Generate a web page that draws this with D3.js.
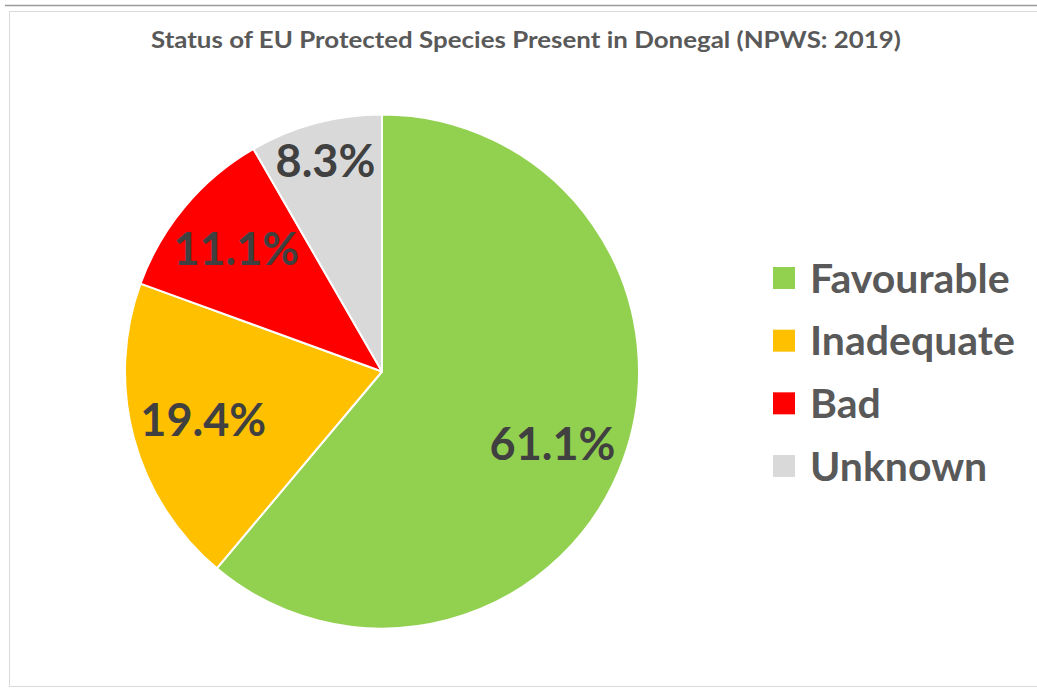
<!DOCTYPE html>
<html>
<head>
<meta charset="utf-8">
<script src="https://cdn.jsdelivr.net/npm/d3@7"></script>
<style>
  body { margin: 0; background: #fff; }
  svg { display: block; font-family: Lato, "Open Sans", sans-serif; }
</style>
</head>
<body>
<div id="chart"></div>
<script>
let width = 1037, height = 688;

// data (species counts, shown as % of total)
let categories = ["Favourable", "Inadequate", "Bad", "Unknown"];
let counts = [22, 7, 4, 3];
let colours = ["#92D050", "#FFC000", "#FF0000", "#D9D9D9"];
let title = "Status of EU Protected Species Present in Donegal (NPWS: 2019)";

let svg = d3.select("#chart").append("svg")
            .attr("width", width).attr("height", height);

// frame
svg.append("line").attr("x1", 5).attr("x2", width).attr("y1", 5.5).attr("y2", 5.5)
   .attr("stroke", "#9a9a9a").attr("stroke-width", 1.5);
svg.append("rect").attr("x", 9.5).attr("y", 11.5).attr("width", width).attr("height", 675)
   .attr("fill", "none").attr("stroke", "#d9d9d9");

svg.append("text")
   .attr("x", 151).attr("y", 48)
   .attr("textLength", 750).attr("lengthAdjust", "spacingAndGlyphs")
   .attr("font-size", 22).attr("font-weight", "bold")
   .attr("fill", "#595959")
   .text(title);

let cx = 382, cy = 371.5, r = 257;
let total = d3.sum(counts);
let rows = categories.map((c, i) => ({ name: c, value: counts[i], colour: colours[i] }));

let pie = d3.pie().sort(null).value(d => d.value);
let arc = d3.arc().innerRadius(0).outerRadius(r);
// label ring; the thin "Unknown" slice gets pushed out a bit like Excel's best fit
let labelRing = { Favourable: 0.72, Inadequate: 0.72, Bad: 0.74, Unknown: 0.85 };

let g = svg.append("g").attr("transform", `translate(${cx},${cy})`);
let arcs = pie(rows);

g.selectAll("path")
 .data(arcs)
 .enter()
 .append("path")
 .attr("fill", d => d.data.colour)
 .attr("stroke", "#fff")
 .attr("stroke-width", 2)
 .attr("stroke-linejoin", "round")
 .attr("d", arc);

g.selectAll("text.lbl")
 .data(arcs)
 .enter()
 .append("text")
 .attr("class", "lbl")
 .attr("transform", d => {
    let lr = r * labelRing[d.data.name];
    let a = (d.startAngle + d.endAngle) / 2;
    // Excel nudges the big slice label a little further round
    if (d.data.name == "Favourable") a += 0.05;
    return `translate(${Math.sin(a) * lr},${-Math.cos(a) * lr})`;
 })
 .attr("text-anchor", "middle")
 .attr("dy", "0.36em")
 .attr("font-size", 45).attr("font-weight", "bold")
 .attr("fill", "#404040")
 .text(d => d3.format(".1%")(d.data.value / total));

// legend
let legendY = d3.scalePoint().domain(categories).range([278, 466]);
let legend = svg.append("g").selectAll("g")
  .data(rows)
  .enter()
  .append("g")
  .attr("transform", d => `translate(773,${legendY(d.name)})`);

legend.append("rect")
  .attr("x", 0).attr("y", -11).attr("width", 22).attr("height", 22)
  .attr("fill", d => d.colour);

legend.append("text")
  .attr("x", 37).attr("y", 0).attr("dy", "0.36em")
  .attr("font-size", 41).attr("font-weight", "bold")
  .attr("fill", "#595959")
  .text(d => d.name);
</script>
</body>
</html>
